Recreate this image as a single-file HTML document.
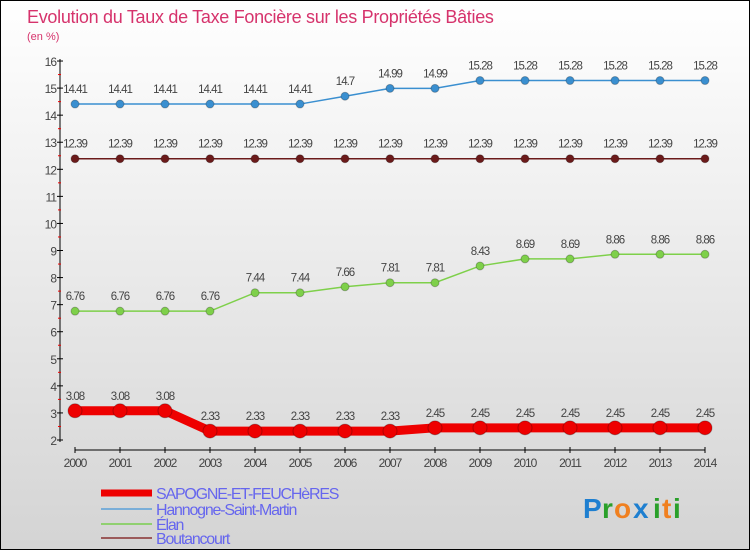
<!DOCTYPE html>
<html><head><meta charset="utf-8"><style>
body{margin:0}
#c{width:748px;height:548px;border:1px solid #000;background:linear-gradient(#fff,#d4d4d4);position:relative;font-family:"Liberation Sans",sans-serif;overflow:hidden}
svg{position:absolute;left:0;top:0}
</style></head><body>
<div id="c">
<svg id="s" width="748" height="548"></svg>
</div>
<script>
const years=[2000,2001,2002,2003,2004,2005,2006,2007,2008,2009,2010,2011,2012,2013,2014];
const sapogne=[3.08,3.08,3.08,2.33,2.33,2.33,2.33,2.33,2.45,2.45,2.45,2.45,2.45,2.45,2.45];
const hannogne=[14.41,14.41,14.41,14.41,14.41,14.41,14.7,14.99,14.99,15.28,15.28,15.28,15.28,15.28,15.28];
const elan=[6.76,6.76,6.76,6.76,7.44,7.44,7.66,7.81,7.81,8.43,8.69,8.69,8.86,8.86,8.86];
const boutancourt=[12.39,12.39,12.39,12.39,12.39,12.39,12.39,12.39,12.39,12.39,12.39,12.39,12.39,12.39,12.39];
const yTicks=[2,3,4,5,6,7,8,9,10,11,12,13,14,15,16];
const NS="http://www.w3.org/2000/svg";const s=document.getElementById('s');
const X=i=>74+i*45, Y=v=>439-(v-2)*27.07;
function el(t,a,p){const e=document.createElementNS(NS,t);for(const k in a)e.setAttribute(k,a[k]);(p||s).appendChild(e);return e;}
function txt(x,y,str,a){const e=el('text',Object.assign({x:x,y:y},a));e.textContent=str;return e;}
let t=txt(26,22,"Evolution du Taux de Taxe Foncière sur les Propriétés Bâties",{fill:"#d6336c","font-size":18,"letter-spacing":"-0.3"});


t=txt(26,39,"(en %)",{fill:"#d6336c","font-size":11});


let a=el('line',{x1:59,y1:58,x2:59,y2:441,stroke:"#000"});


a=el('line',{x1:74,y1:449,x2:704,y2:449,stroke:"#000"});


yTicks.forEach(v=>{
 el('line',{x1:56,y1:Y(v),x2:62,y2:Y(v),stroke:"#000"});
 if(v<16) el('line',{x1:57,y1:Y(v+0.5),x2:60,y2:Y(v+0.5),stroke:"#e00"});
 const l=txt(55,Y(v)+5,String(v),{fill:"#444","font-size":12,"text-anchor":"end","letter-spacing":"-1"});
 
 
});
years.forEach((y,i)=>{
 el('line',{x1:X(i),y1:446,x2:X(i),y2:452,stroke:"#000"});
 const l=txt(X(i),466,String(y),{fill:"#444","font-size":12,"text-anchor":"middle","letter-spacing":"-1"});
 
 
});
function series(data,color,w,r,name){
 const g=el('g',{});
 
 
 el('polyline',{points:data.map((v,i)=>X(i)+","+Y(v)).join(" "),fill:"none",stroke:color,"stroke-width":w},g);
 data.forEach((v,i)=>{
  const c=el('circle',{cx:X(i),cy:Y(v),r:r,fill:color,stroke:"rgba(0,0,0,0.25)"},g);
  
  
  txt(X(i),Y(v)-11,String(v),{fill:"#444","font-size":11.5,"text-anchor":"middle","letter-spacing":"-1"},g);
 });
}
series(hannogne,"#3a8fd0",1.5,4,"series-hannogne");
series(boutancourt,"#6b1a1a",1.5,4,"series-boutancourt");
series(elan,"#7ed04a",1.5,4,"series-elan");
series(sapogne,"#ee0000",9,7,"series-sapogne");
const leg=[["SAPOGNE-ET-FEUCHèRES","#ee0000",7],["Hannogne-Saint-Martin","#7aaed8",2],["Élan","#90d070",2],["Boutancourt","#9b5a5a",2]];
leg.forEach((l,i)=>{
 const y=[492,508,523,537][i];
 const g=el('g',{});
 
 
 el('line',{x1:100,y1:y,x2:151,y2:y,stroke:l[1],"stroke-width":l[2]},g);
 txt(155,y+6,l[0],{fill:"#6666ee","font-size":16,"letter-spacing":"-1.2"},g);
});
const lg=el('g',{});


[["P","#1e7fd0"],["r","#2aa02a"],["o","#f08020"],["x","#1e7fd0"],["i","#2aa02a"],["t","#f08020"],["i","#2aa02a"]].forEach((c,i)=>{
 txt(582+[0,19,31,50,70,79,90][i],517,c[0],{fill:c[1],"font-size":28,"font-weight":"bold"},lg);
});
</script>
</body></html>
